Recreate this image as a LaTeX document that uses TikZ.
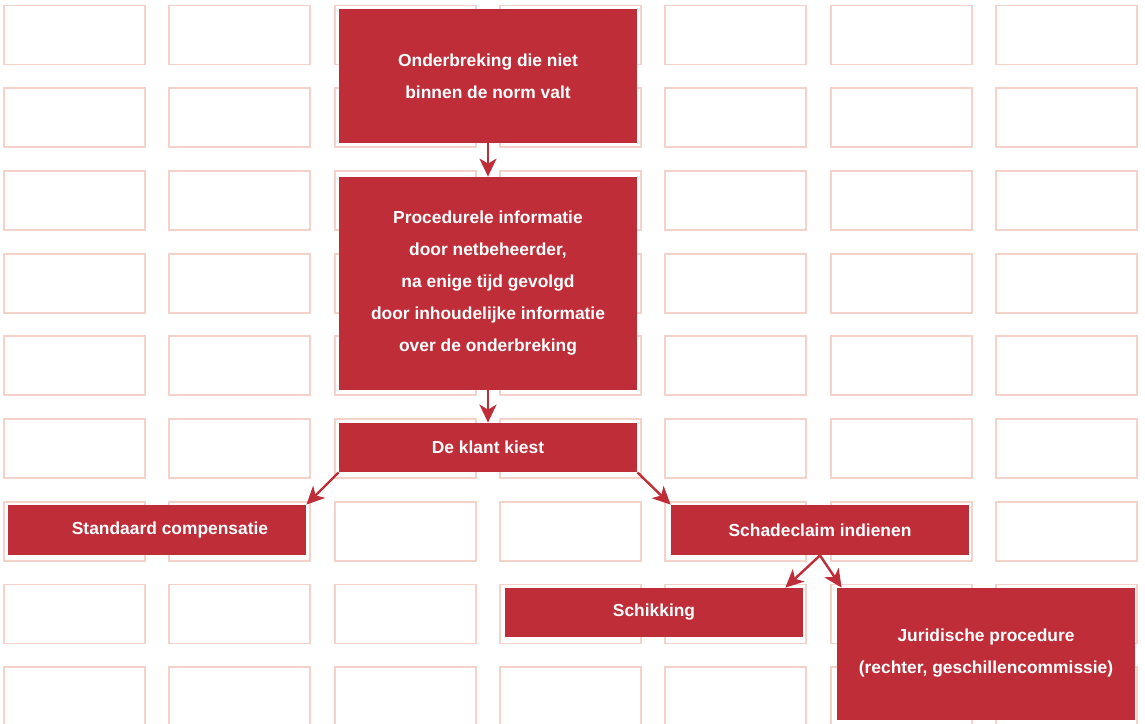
\documentclass[tikz,border=0pt]{standalone}
\usepackage{fontspec}
\setmainfont{Liberation Sans}
\usetikzlibrary{arrows.meta}
\definecolor{klantrood}{HTML}{BF2D38}
\definecolor{rasterroze}{HTML}{F4D2CA}
\tikzset{
  vak/.style={fill=klantrood, text=white, font=\bfseries\fontsize{8.7}{16}\selectfont,
    align=center, minimum width=149pt, inner sep=0pt},
  pijl/.style={->, draw=klantrood, line width=1.2pt},
}
\begin{document}
\begin{tikzpicture}[x=0.5pt,y=-0.5pt,>={Stealth[length=9pt,width=8.5pt,inset=2.5pt]}]
\useasboundingbox (0,0) rectangle (1145,723);
\clip (0,0) rectangle (1145,723);
% raster op de achtergrond
\foreach \i in {0,...,6}
  \foreach \j in {0,...,8}
    \draw[rasterroze, line width=0.9pt] ({4+165.33*\i},{5.5+82.7*\j}) rectangle ++(141,59);
% de vakken
\node[vak, minimum height=67pt] (norm) at (488,76) {Onderbreking die niet\\binnen de norm valt};
\node[vak, minimum height=106.5pt] (info) at (488,283.5) {Procedurele informatie\\door netbeheerder,\\na enige tijd gevolgd\\door inhoudelijke informatie\\over de onderbreking};
\node[vak, minimum height=24.5pt] (kiest) at (488,447.5) {De klant kiest};
\node[vak, minimum height=25pt] (standaard) at (157,530) {\hspace{13pt}Standaard compensatie};
\node[vak, minimum height=25pt] (claim) at (820,530) {Schadeclaim indienen};
\node[vak, minimum height=24.5pt] (schikking) at (654,612.5) {Schikking};
\node[vak, minimum height=66pt] (juridisch) at (986,654) {\raisebox{2.5pt}{\shortstack{Juridische procedure\\[5pt](rechter, geschillencommissie)}}};
% pijlen
\draw[pijl] (norm.south) -- (info.north);
\draw[pijl] (info.south) -- (kiest.north);
\draw[pijl] (kiest.south west) -- (standaard.north east);
\draw[pijl] (kiest.south east) -- (claim.north west);
\draw[pijl] (claim.south) -- ([xshift=-9pt]schikking.north east);
\draw[pijl] (claim.south) -- ([xshift=2.5pt]juridisch.north west);
\end{tikzpicture}
\end{document}
